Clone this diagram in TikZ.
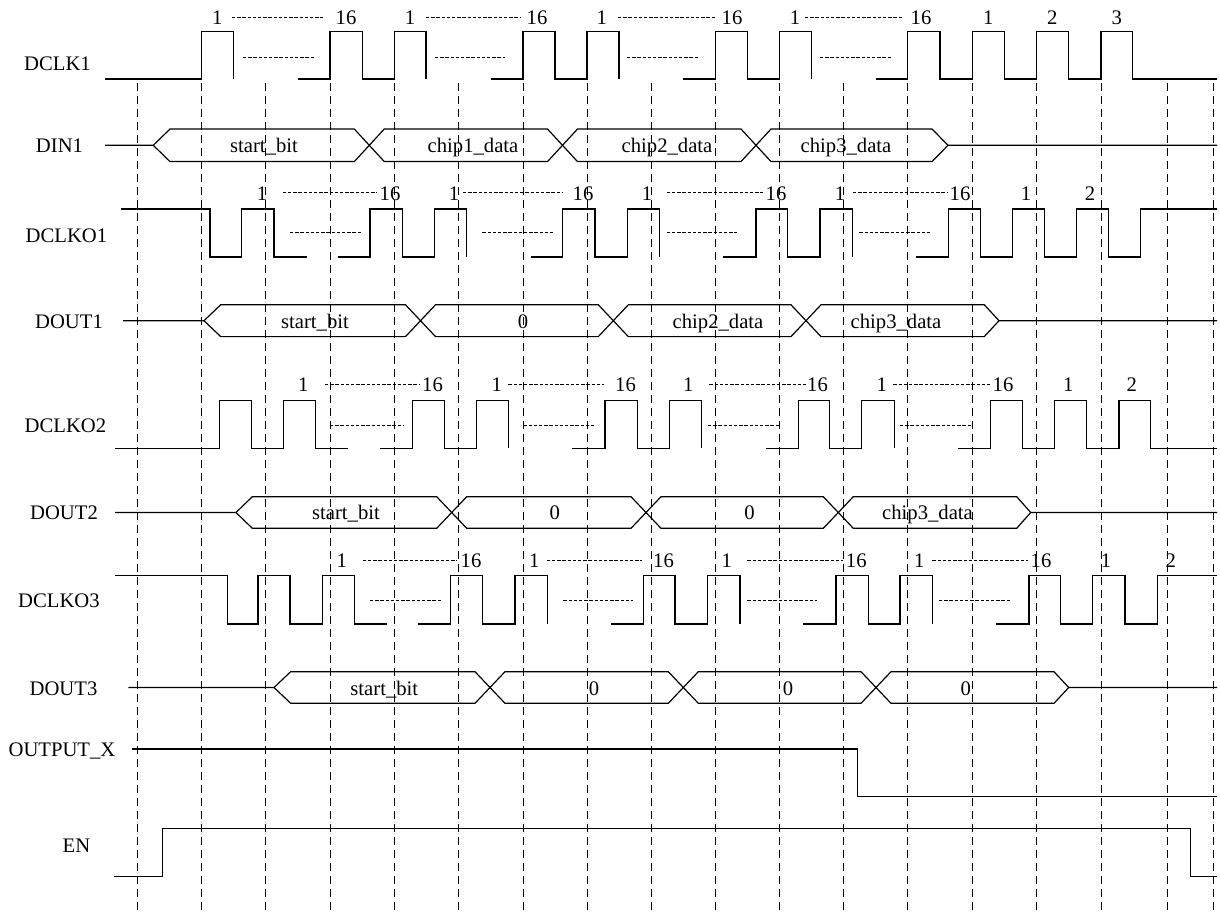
\documentclass[tikz,border=0pt]{standalone}
\usepackage{fontspec}
\setmainfont{Liberation Serif}
\begin{document}
\begin{tikzpicture}[x=0.75pt,y=-0.75pt,
  sig/.style={line width=0.9pt, line join=miter},
  gridline/.style={line width=0.75pt, dash pattern=on 6pt off 3.75pt},
  hy/.style={line width=0.5pt, dash pattern=on 2.6pt off 1.3pt},
  lab/.style={anchor=base, inner sep=0pt, font=\fontsize{15.5}{18}\selectfont}]
\useasboundingbox (0,0) rectangle (1220,913);

% ---------- vertical dashed grid ----------
\foreach \x [count=\i] in {137.7,201.7,265.7,330,394.3,458.7,523,587,651,715.3,779.7,843.7,907.7,972.3,1036.7,1101,1167,1213.3}
  \draw[gridline] (\x,83) coordinate (gt\i) -- (\x,911) coordinate (gb\i);

% ---------- signal names ----------
\node[lab] (nDCLK1)  at (57.5,71)  {DCLK1};
\node[lab] (nDIN1)   at (59.5,152) {DIN1};
\node[lab] (nDCLKO1) at (66.5,242) {DCLKO1};
\node[lab] (nDOUT1)  at (69,328)   {DOUT1};
\node[lab] (nDCLKO2) at (65.5,432) {DCLKO2};
\node[lab] (nDOUT2)  at (64,519)   {DOUT2};
\node[lab] (nDCLKO3) at (59,607)   {DCLKO3};
\node[lab] (nDOUT3)  at (63.5,695) {DOUT3};
\node[lab] (nOUTX)   at (62,756)   {OUTPUT\_X};
\node[lab] (nEN)     at (76.5,852) {EN};

% ---------- DCLK1 ----------
\draw[sig] (105,79) -- (201.7,79) -- (201.7,31.5) -- (233.3,31.5) -- (233.3,79);
\draw[sig] (297.7,79) -- (330,79) -- (330,31.5) -- (362.3,31.5) -- (362.3,79) -- (394.3,79) -- (394.3,31.5) -- (426,31.5) -- (426,79);
\draw[sig] (490.7,79) -- (523,79) -- (523,31.5) -- (555,31.5) -- (555,79) -- (587,79) -- (587,31.5) -- (619,31.5) -- (619,79);
\draw[sig] (683,79) -- (715.3,79) -- (715.3,31.5) -- (747.7,31.5) -- (747.7,79) -- (779.7,79) -- (779.7,31.5) -- (811.7,31.5) -- (811.7,79);
\draw[sig] (876,79) -- (907.7,79) -- (907.7,31.5) -- (940,31.5) -- (940,79) -- (972.3,79) -- (972.3,31.5) -- (1004.3,31.5) -- (1004.3,79) -- (1036.7,79) -- (1036.7,31.5) -- (1068.3,31.5) -- (1068.3,79) -- (1101,79) -- (1101,31.5) -- (1132.3,31.5) -- (1132.3,79) -- (1217,79);
\foreach \a/\b in {243/314,435/505,627/697.7,820/890.7} \draw[hy] (\a,57) -- (\b,57);
\foreach \x/\t [count=\i] in {217.3/1,346/16,410/1,537/16,601.7/1,732/16,795/1,921/16,988.3/1,1052.3/2,1116.7/3}
  \node[lab] (ka\i) at (\x,25) {\t};
\foreach \a/\b in {232/323,426/520,618/715,805/901.7} \draw[hy] (\a,17.5) -- (\b,17.5);

% ---------- DIN1 ----------
\draw[sig] (105,145.3) -- (153.3,145.3) -- (170,129) -- (354.3,129) -- (384.3,161.6) -- (547.5,161.6) -- (577.5,129) -- (741,129) -- (771,161.6) -- (932,161.6) -- (948,145.3) -- (1217,145.3);
\draw[sig] (153.3,145.3) -- (170,161.6) -- (354.3,161.6) -- (384.3,129) -- (547.5,129) -- (577.5,161.6) -- (741,161.6) -- (771,129) -- (932,129) -- (948,145.3);
\node[lab] (da1) at (264,152) {start\_bit};
\node[lab] (da2) at (473,152) {chip1\_data};
\node[lab] (da3) at (667,152) {chip2\_data};
\node[lab] (da4) at (846,152) {chip3\_data};

% ---------- DCLKO1 ----------
\draw[sig] (121,209) -- (210,209) -- (210,257) -- (241.7,257) -- (241.7,209) -- (274,209) -- (274,257) -- (306.7,257);
\draw[sig] (338.3,257) -- (370,257) -- (370,209) -- (402.7,209) -- (402.7,257) -- (434.3,257) -- (434.3,209) -- (466.7,209) -- (466.7,257);
\draw[sig] (530.7,257) -- (562.7,257) -- (562.7,209) -- (595,209) -- (595,257) -- (627.7,257) -- (627.7,209) -- (659.3,209) -- (659.3,257);
\draw[sig] (723.3,257) -- (756,257) -- (756,209) -- (787.7,209) -- (787.7,257) -- (820,257) -- (820,209) -- (852.3,209) -- (852.3,257);
\draw[sig] (916,257) -- (948.3,257) -- (948.3,209) -- (980.3,209) -- (980.3,257) -- (1012.3,257) -- (1012.3,209) -- (1044.3,209) -- (1044.3,257) -- (1076.7,257) -- (1076.7,209) -- (1108.3,209) -- (1108.3,257) -- (1140.7,257) -- (1140.7,209) -- (1217,209);
\foreach \a/\b in {290/360.7,482.3/553.3,666.7/737.3,859.3/930} \draw[hy] (\a,232.7) -- (\b,232.7);
\foreach \x/\t [count=\i] in {262/1,390/16,454/1,583/16,647/1,776/16,840/1,960/16,1026/1,1090/2}
  \node[lab] (kb\i) at (\x,200) {\t};
\foreach \a/\b in {282.7/376.7,463/562,666.7/763,853/948} \draw[hy] (\a,192.7) -- (\b,192.7);

% ---------- DOUT1 ----------
\draw[sig] (123,320.7) -- (204,320.7) -- (220.7,304.8) -- (405.5,304.8) -- (435.5,336.6) -- (598.3,336.6) -- (628.3,304.8) -- (791,304.8) -- (821,336.6) -- (984.3,336.6) -- (999,320.7) -- (1217,320.7);
\draw[sig] (204,320.7) -- (220.7,336.6) -- (405.5,336.6) -- (435.5,304.8) -- (598.3,304.8) -- (628.3,336.6) -- (791,336.6) -- (821,304.8) -- (984.3,304.8) -- (999,320.7);
\node[lab] (db1) at (315,328) {start\_bit};
\node[lab] (db2) at (523,328) {0};
\node[lab] (db3) at (718,328) {chip2\_data};
\node[lab] (db4) at (896,328) {chip3\_data};

% ---------- DCLKO2 ----------
\draw[sig] (115,448.3) -- (219.3,448.3) -- (219.3,400.7) -- (251.7,400.7) -- (251.7,448.3) -- (283.3,448.3) -- (283.3,400.7) -- (315.7,400.7) -- (315.7,448.3) -- (348.3,448.3);
\draw[sig] (380,448.3) -- (412.7,448.3) -- (412.7,400.7) -- (444.3,400.7) -- (444.3,448.3) -- (476.7,448.3) -- (476.7,400.7) -- (508.7,400.7) -- (508.7,448.3);
\draw[sig] (572.3,448.3) -- (605,448.3) -- (605,400.7) -- (637.3,400.7) -- (637.3,448.3) -- (669.3,448.3) -- (669.3,400.7) -- (701.7,400.7) -- (701.7,448.3);
\draw[sig] (765.7,448.3) -- (798.3,448.3) -- (798.3,400.7) -- (829.3,400.7) -- (829.3,448.3) -- (861.7,448.3) -- (861.7,400.7) -- (894.3,400.7) -- (894.3,448.3);
\draw[sig] (957.7,448.3) -- (990.7,448.3) -- (990.7,400.7) -- (1022.3,400.7) -- (1022.3,448.3) -- (1054.3,448.3) -- (1054.3,400.7) -- (1086.7,400.7) -- (1086.7,448.3) -- (1119,448.3) -- (1119,400.7) -- (1150.7,400.7) -- (1150.7,448.3) -- (1217,448.3);
\foreach \a/\b in {330/403.3,523.3/595,708/780,900/972.7} \draw[hy] (\a,425) -- (\b,425);
\foreach \x/\t [count=\i] in {303.3/1,432.5/16,496.7/1,625.5/16,688.3/1,817.5/16,881.7/1,1003/16,1068.3/1,1131.7/2}
  \node[lab] (kc\i) at (\x,391.7) {\t};
\foreach \a/\b in {325/420,508.3/604,709.3/806,893.3/990} \draw[hy] (\a,384.3) -- (\b,384.3);

% ---------- DOUT2 ----------
\draw[sig] (115,512.5) -- (236,512.5) -- (252.3,496.7) -- (436.7,496.7) -- (466.7,528.3) -- (631,528.3) -- (661,496.7) -- (823.3,496.7) -- (853.3,528.3) -- (1016.7,528.3) -- (1030.7,512.5) -- (1217,512.5);
\draw[sig] (236,512.5) -- (252.3,528.3) -- (436.7,528.3) -- (466.7,496.7) -- (631,496.7) -- (661,528.3) -- (823.3,528.3) -- (853.3,496.7) -- (1016.7,496.7) -- (1030.7,512.5);
\node[lab] (dc1) at (346,519.3) {start\_bit};
\node[lab] (dc2) at (554.7,519.3) {0};
\node[lab] (dc3) at (749.5,519.3) {0};
\node[lab] (dc4) at (927.5,519.3) {chip3\_data};

% ---------- DCLKO3 ----------
\draw[sig] (115,575.7) -- (227.7,575.7) -- (227.7,624) -- (258,624) -- (258,575.7) -- (290,575.7) -- (290,624) -- (322.3,624) -- (322.3,575.7) -- (354.3,575.7) -- (354.3,624) -- (386.7,624);
\draw[sig] (418.3,624) -- (450.7,624) -- (450.7,575.7) -- (482.7,575.7) -- (482.7,624) -- (515,624) -- (515,575.7) -- (547.3,575.7) -- (547.3,624);
\draw[sig] (611,624) -- (643.3,624) -- (643.3,575.7) -- (675,575.7) -- (675,624) -- (707.3,624) -- (707.3,575.7) -- (740,575.7) -- (740,624);
\draw[sig] (803.3,624) -- (836,624) -- (836,575.7) -- (868.3,575.7) -- (868.3,624) -- (900,624) -- (900,575.7) -- (932.3,575.7) -- (932.3,624);
\draw[sig] (996,624) -- (1029,624) -- (1029,575.7) -- (1060.7,575.7) -- (1060.7,624) -- (1092.7,624) -- (1092.7,575.7) -- (1125,575.7) -- (1125,624) -- (1157.3,624) -- (1157.3,575.7) -- (1217,575.7);
\foreach \a/\b in {370/440.7,563.3/633.3,747.3/817.3,939/1010} \draw[hy] (\a,600) -- (\b,600);
\foreach \x/\t [count=\i] in {341.7/1,471/16,534.3/1,663.5/16,726.7/1,856.3/16,919.3/1,1041/16,1106/1,1170.7/2}
  \node[lab] (kd\i) at (\x,567.3) {\t};
\foreach \a/\b in {362.7/457.3,546.7/641.7,747.3/843.3,932.3/1028.3} \draw[hy] (\a,560) -- (\b,560);

% ---------- DOUT3 ----------
\draw[sig] (128.3,687.5) -- (274,687.5) -- (290.7,671.7) -- (475,671.7) -- (505,703.3) -- (668.3,703.3) -- (698.3,671.7) -- (861,671.7) -- (891,703.3) -- (1054,703.3) -- (1068.7,687.5) -- (1217,687.5);
\draw[sig] (274,687.5) -- (290.7,703.3) -- (475,703.3) -- (505,671.7) -- (668.3,671.7) -- (698.3,703.3) -- (861,703.3) -- (891,671.7) -- (1054,671.7) -- (1068.7,687.5);
\node[lab] (dd1) at (384.3,695) {start\_bit};
\node[lab] (dd2) at (594,695) {0};
\node[lab] (dd3) at (788,695) {0};
\node[lab] (dd4) at (965.7,695) {0};

% ---------- OUTPUT_X ----------
\draw[sig] (132.3,749) -- (857.3,749) -- (857.3,796.7) -- (1217,796.7);

% ---------- EN ----------
\draw[sig] (114,876.7) -- (162.7,876.7) -- (162.7,828.3) -- (1190.7,828.3) -- (1190.7,876.7) -- (1217,876.7);
\end{tikzpicture}
\end{document}
